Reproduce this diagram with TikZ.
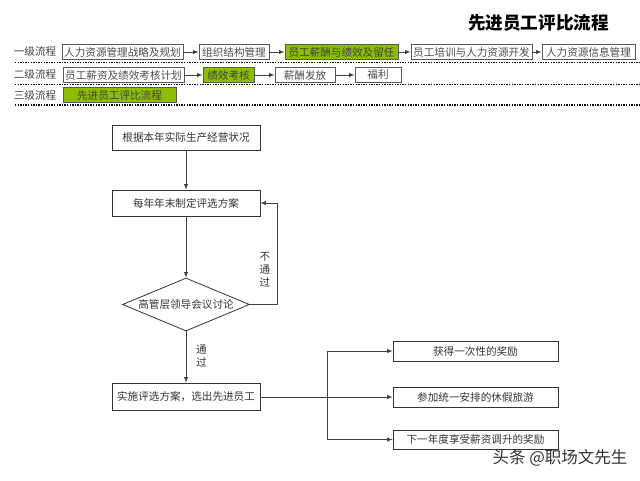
\documentclass[tikz,border=0pt]{standalone}
\usepackage{fontspec}
\setmainfont{Noto Sans CJK SC}
\usetikzlibrary{shapes.geometric}
\definecolor{leafgreen}{RGB}{140,190,0}
\tikzset{
    navbox/.style={draw=black!65, line width=0.9pt, inner sep=0pt, minimum height=15pt, font=\fontsize{10.6pt}{12pt}\selectfont, text=black!70},
    navon/.style={navbox, fill=leafgreen, text=black!75},
    navlabel/.style={font=\fontsize{10.6pt}{12pt}\selectfont, text=black!75, inner sep=0pt},
    flowbox/.style={draw=black!80, line width=0.8pt, inner sep=0pt, font=\fontsize{10.6pt}{12pt}\selectfont, text=black!80},
    navarrow/.style={draw=black!75, line width=0.9pt, -latex},
    flowarrow/.style={draw=black!75, line width=0.9pt, -latex},
    sepline/.style={line width=1.5pt, dash pattern=on 1.3pt off 1.3pt}
}
\begin{document}
\begin{tikzpicture}[x=1pt,y=-1pt]
        \useasboundingbox (0,0) rectangle (640,480);
        \node[font=\fontsize{17.6pt}{20pt}\selectfont\bfseries, inner sep=0pt] (title) at (538.5,23) {先进员工评比流程};
        \node[navlabel] (l1) at (35,51) {一级流程};
        \node[navlabel] (l2) at (35,74) {二级流程};
        \node[navlabel] (l3) at (35,95) {三级流程};
        \node[navbox, minimum width=121pt] (a1) at (122.5,52) {人力资源管理战略及规划};
        \node[navbox, minimum width=70pt] (a2) at (234,52) {组织结构管理};
        \node[navon, minimum width=113pt] (a3) at (341.5,52) {员工薪酬与绩效及留任};
        \node[navbox, minimum width=121pt] (a4) at (471.5,52) {员工培训与人力资源开发};
        \node[navbox, minimum width=93pt] (a5) at (588.5,52) {人力资源信息管理};
        \node[navbox, minimum width=121pt] (b1) at (123.5,75) {员工薪资及绩效考核计划};
        \node[navon, minimum width=51pt] (b2) at (228.5,75) {绩效考核};
        \node[navbox, minimum width=60pt] (b3) at (305,75) {薪酬发放};
        \node[navbox, minimum width=46pt] (b4) at (378,75) {福利};
        \node[navon, minimum width=113pt] (c1) at (119.5,95) {先进员工评比流程};
        \draw[navarrow] (a1) -- (a2);
        \draw[navarrow] (a2) -- (a3);
        \draw[navarrow] (a3) -- (a4);
        \draw[navarrow] (a4) -- (a5);
        \draw[navarrow] (b1) -- (b2);
        \draw[navarrow] (b2) -- (b3);
        \draw[navarrow] (b3) -- (b4);
        \draw[sepline] (15,62.5) -- (640,62.5);
        \draw[sepline] (15,84.5) -- (640,84.5);
        \draw[sepline] (15,105) -- (640,105);
        \node[flowbox, minimum width=148pt, minimum height=25pt] (start) at (186,137.5) {根据本年实际生产经营状况};
        \node[flowbox, minimum width=148pt, minimum height=26pt] (plan) at (186,203) {每年年末制定评选方案};
        \node[flowbox, diamond, aspect=2.4, minimum width=127pt, minimum height=53pt] (meet) at (186,304.5) {};
        \node[font=\fontsize{10.6pt}{12pt}\selectfont, text=black!80, inner sep=0pt] (meettext) at (186,304.5) {高管层领导会议讨论};
        \node[flowbox, minimum width=148pt, minimum height=27pt] (run) at (186,396.5) {实施评选方案，选出先进员工};
        \node[flowbox, minimum width=165pt, minimum height=20pt] (r1) at (475.5,351) {获得一次性的奖励};
        \node[flowbox, minimum width=165pt, minimum height=20pt] (r2) at (475.5,397) {参加统一安排的休假旅游};
        \node[flowbox, minimum width=165pt, minimum height=19pt] (r3) at (475.5,439.5) {下一年度享受薪资调升的奖励};
        \coordinate (back) at (277,304.5);
        \coordinate (fork) at (327,397);
        \draw[flowarrow] (start) -- (plan);
        \draw[flowarrow] (plan) -- (meet);
        \draw[flowarrow] (meet) -- (run);
        \draw[flowarrow] (meet.east) -- (back) |- (plan.east);
        \draw[flowarrow] (run.east |- fork) -- (r2.west);
        \draw[flowarrow] (fork) |- (r1.west);
        \draw[flowarrow] (fork) |- (r3.west);
        \node[align=center, font=\fontsize{10.6pt}{13pt}\selectfont, text=black!80, inner sep=0pt] (nopass) at (265,270) {不\\通\\过};
        \node[align=center, font=\fontsize{10.6pt}{13pt}\selectfont, text=black!80, inner sep=0pt] (pass) at (201.5,356.5) {通\\过};
        \node[font=\fontsize{16.5pt}{18pt}\selectfont, text=black!80, inner sep=0pt] (mark) at (560,458) {头条 @职场文先生};
    \end{tikzpicture}
\end{document}
